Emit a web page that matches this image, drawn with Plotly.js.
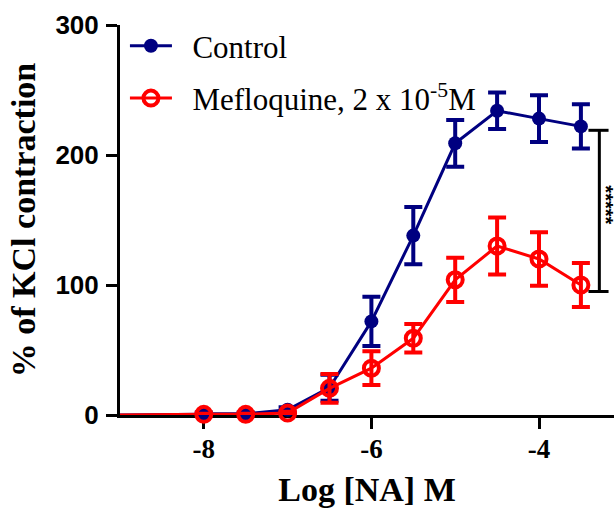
<!DOCTYPE html>
<html>
<head>
<meta charset="utf-8">
<script src="https://cdn.plot.ly/plotly-3.0.1.min.js"></script>
<style>html,body{margin:0;padding:0;background:#fff}#chart{width:614px;height:509px}</style>
</head>
<body>
<div id="chart"></div>
<script>
// Data
const logNA = [-8, -7.5, -7, -6.5, -6, -5.5, -5, -4.5, -4, -3.5];
const controlMean = [1, 1, 4, 21, 72, 138, 209, 234, 228, 222];
const controlSEM  = [1, 1, 2, 10, 19, 22, 18, 14, 18, 17];
const mefloMean = [0.5, 0.5, 1.5, 20.5, 36, 59, 104, 130, 120, 100];
const mefloSEM  = [0.5, 0.5, 1, 11, 13, 11, 17, 22, 20.5, 17];
const leadX = [-9, -8];
const leadY = [0, 0.5];
const bracketX = -3.28;
const bracketTop = 219;
const bracketBottom = 95;
const sigLabel = '*****';
const xTicks = [-8, -6, -4];
const yTicks = [0, 100, 200, 300];

const navy = '#000080';
const red = '#FF0000';
const serif = 'Liberation Serif, Times New Roman, serif';
const sans = 'Liberation Sans, Arial, sans-serif';

const traces = [
  {x: leadX, y: leadY, mode: 'lines', line: {color: navy, width: 3}, showlegend: false, hoverinfo: 'skip', cliponaxis: false},
  {x: leadX, y: leadY, mode: 'lines', line: {color: red, width: 3}, showlegend: false, hoverinfo: 'skip', cliponaxis: false},
  {
    x: logNA, y: controlMean, name: '&nbsp;&nbsp;Control', legendgroup: 'a',
    mode: 'lines+markers', cliponaxis: false,
    line: {color: navy, width: 3},
    marker: {color: navy, size: 14, symbol: 'circle'},
    error_y: {type: 'data', array: controlSEM, visible: true, color: navy, thickness: 4, width: 9}
  },
  {
    x: logNA, y: mefloMean, name: '&nbsp;&nbsp;Mefloquine, 2 x 10<sup>-5</sup>M', legendgroup: 'b',
    mode: 'lines+markers', cliponaxis: false,
    line: {color: red, width: 3},
    marker: {color: red, size: 15, symbol: 'circle-open', line: {color: red, width: 4}},
    error_y: {type: 'data', array: mefloSEM, visible: true, color: red, thickness: 4, width: 9}
  }
];

const layout = {
  width: 614, height: 509,
  margin: {l: 120, r: 0, t: 25, b: 94},
  paper_bgcolor: '#fff', plot_bgcolor: '#fff',
  showlegend: true,
  legend: {
    x: 0.01, y: 1.015, xanchor: 'left', yanchor: 'top',
    bgcolor: 'rgba(0,0,0,0)', tracegroupgap: 9, itemwidth: 42,
    font: {family: serif, size: 31, color: '#000'}
  },
  xaxis: {
    range: [-9, -3.105], tickvals: xTicks, ticktext: xTicks.map(v => '<b>' + v + '</b>'),
    showgrid: false, zeroline: false, showline: true, linecolor: '#000', linewidth: 3,
    ticks: 'outside', ticklen: 11, tickwidth: 3, tickcolor: '#000', layer: 'below traces',
    ticklabelstandoff: -3,
    tickfont: {family: serif, size: 27, color: '#000'},
    title: {text: '<b>Log [NA] M</b>', standoff: 14, font: {family: serif, size: 34, color: '#000'}}
  },
  yaxis: {
    range: [0, 300], tickvals: yTicks, ticktext: yTicks.map(v => '<b>' + v + '</b>'),
    showgrid: false, zeroline: false, showline: true, linecolor: '#000', linewidth: 3,
    ticks: 'outside', ticklen: 11, tickwidth: 3, tickcolor: '#000', layer: 'below traces',
    ticklabelstandoff: 2,
    tickfont: {family: sans, size: 26, color: '#000'},
    title: {text: '<b>% of KCl contraction</b>', standoff: 10, font: {family: serif, size: 34, color: '#000'}}
  },
  shapes: [
    {type: 'line', xref: 'x', yref: 'y', x0: bracketX, x1: bracketX, y0: bracketBottom, y1: bracketTop, line: {color: '#000', width: 3}},
    {type: 'line', xref: 'x', yref: 'y', x0: bracketX - 0.13, x1: bracketX + 0.11, y0: bracketTop, y1: bracketTop, line: {color: '#000', width: 3}},
    {type: 'line', xref: 'x', yref: 'y', x0: bracketX - 0.13, x1: bracketX + 0.11, y0: bracketBottom, y1: bracketBottom, line: {color: '#000', width: 3}}
  ],
  annotations: [
    {xref: 'x', yref: 'y', x: -3.2, y: (bracketTop + bracketBottom) / 2 + 5, text: '<b>' + sigLabel + '</b>', showarrow: false,
     textangle: 90, font: {family: sans, size: 20, color: '#000'}}
  ]
};

Plotly.newPlot('chart', traces, layout, {displayModeBar: false, staticPlot: true});
</script>
</body>
</html>
